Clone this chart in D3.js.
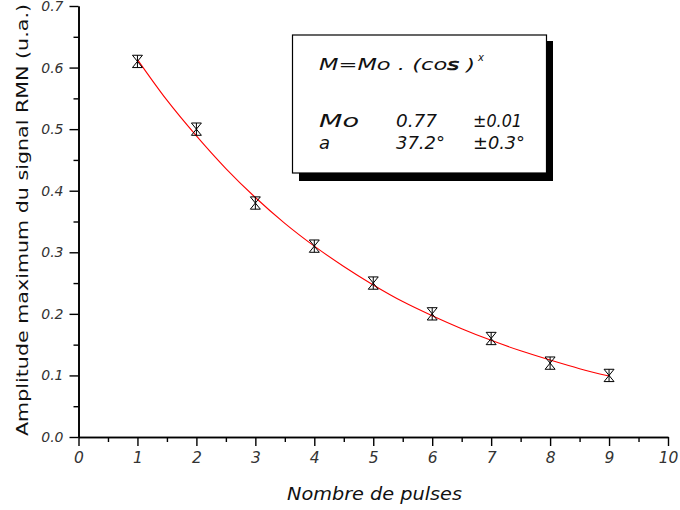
<!DOCTYPE html>
<html><head><meta charset="utf-8">
<script src="https://cdn.jsdelivr.net/npm/d3@7/dist/d3.min.js"></script>
<style>body{margin:0;background:#fff}svg{display:block}</style>
</head><body>
<svg id="c" width="680" height="510"></svg>
<script>
// data
const pulses = [1, 2, 3, 4, 5, 6, 7, 8, 9];
const amplitude = [0.61, 0.50, 0.38, 0.31, 0.25, 0.20, 0.16, 0.12, 0.10];
const errBar = [0.01, 0.01, 0.01, 0.01, 0.01, 0.01, 0.01, 0.01, 0.01];
const fitX = [1, 1.5, 2, 2.5, 3, 3.5, 4, 4.5, 5, 5.5, 6, 6.5, 7, 7.5, 8, 8.5, 9];
const fitY = [0.613, 0.547, 0.489, 0.436, 0.389, 0.347, 0.310, 0.277, 0.247, 0.220, 0.197, 0.176, 0.157, 0.140, 0.125, 0.111, 0.099];
const xTicks = [0, 1, 2, 3, 4, 5, 6, 7, 8, 9, 10];
const yTicks = [0.0, 0.1, 0.2, 0.3, 0.4, 0.5, 0.6, 0.7];
const legendRows = [["Mo", "0.77", "\u00b10.01"], ["a", "37.2\u00b0", "\u00b10.3\u00b0"]];

const svg = d3.select("#c");
const font = "'DejaVu Sans', sans-serif";
const x = d3.scaleLinear().domain([0, 10]).range([78.5, 668]);
const y = d3.scaleLinear().domain([0, 0.7]).range([437, 6]);

// axes
const xAxis = d3.axisBottom(x).tickValues(xTicks).tickSize(9).tickSizeOuter(0).tickFormat(d3.format("d"));
const xMinor = d3.axisBottom(x).tickValues(d3.range(0.5, 10, 1)).tickSize(5).tickSizeOuter(0).tickFormat("");
const yAxis = d3.axisLeft(y).tickValues(yTicks).tickSize(9).tickSizeOuter(0).tickFormat(d3.format(".1f"));
const yMinor = d3.axisLeft(y).tickValues(d3.range(0.05, 0.7, 0.1)).tickSize(5).tickSizeOuter(0).tickFormat("");

function style(g){
  g.select(".domain").attr("stroke","#000").attr("stroke-width",1.6);
  g.selectAll(".tick line").attr("stroke","#000").attr("stroke-width",1.4);
  g.selectAll(".tick text").attr("font-family",font).attr("font-style","italic").attr("font-size",14).attr("fill","#333");
}
svg.append("g").attr("transform","translate(0,437)").call(xMinor).call(style);
const gx = svg.append("g").attr("transform","translate(0,437)").call(xAxis).call(style);
gx.selectAll(".tick text").attr("y",26).attr("dy",0).attr("font-size",15.5);
svg.append("g").attr("transform","translate(78.5,0)").call(yMinor).call(style);
const gy = svg.append("g").attr("transform","translate(78.5,0)").call(yAxis).call(style);
gy.selectAll(".tick text").attr("x",-15);

// axis titles
svg.append("text").attr("x", 287).attr("y", 500)
  .attr("font-family",font).attr("font-style","italic").attr("font-size",18).attr("fill","#111")
  .attr("textLength",175).attr("lengthAdjust","spacingAndGlyphs")
  .text("Nombre de pulses");
svg.append("text").attr("transform","translate(28,220) rotate(-90)").attr("text-anchor","middle")
  .attr("font-family",font).attr("font-size",16.5).attr("fill","#111")
  .attr("textLength",432).attr("lengthAdjust","spacingAndGlyphs")
  .text("Amplitude maximum du signal RMN (u.a.)");

// fit curve
const line = d3.line().x((d,i)=>x(fitX[i])).y((d,i)=>y(fitY[i])).curve(d3.curveMonotoneX);
svg.append("path").datum(fitY).attr("d", line).attr("fill","none").attr("stroke","#ff0000").attr("stroke-width",1.1);

// markers: X with error bar caps
const hw = 5;
const mk = svg.append("g").attr("stroke","#000").attr("stroke-width",1).attr("fill","none");
pulses.forEach((p,i)=>{
  const cx = x(p), yt = y(amplitude[i] + errBar[i]), yb = y(amplitude[i] - errBar[i]);
  const g = mk.append("g");
  g.append("line").attr("x1",cx-hw).attr("x2",cx+hw).attr("y1",yt).attr("y2",yt);
  g.append("line").attr("x1",cx-hw).attr("x2",cx+hw).attr("y1",yb).attr("y2",yb);
  g.append("line").attr("x1",cx-hw).attr("x2",cx+hw).attr("y1",yt).attr("y2",yb);
  g.append("line").attr("x1",cx+hw).attr("x2",cx-hw).attr("y1",yt).attr("y2",yb);
  g.append("line").attr("x1",cx).attr("x2",cx).attr("y1",yt).attr("y2",yb);
});

// legend box
const lg = svg.append("g");
lg.append("rect").attr("x",299).attr("y",41).attr("width",254).attr("height",140).attr("fill","#000");
lg.append("rect").attr("x",292.5).attr("y",35).attr("width",254).attr("height",138).attr("fill","#fff").attr("stroke","#000").attr("stroke-width",1.2);
const t1 = lg.append("text").attr("x",319).attr("y",70).attr("font-family",font).attr("font-style","italic").attr("font-size",16).attr("fill","#111")
  .attr("textLength",156).attr("lengthAdjust","spacingAndGlyphs");
t1.append("tspan").text("M=Mo . (co");
t1.append("tspan").attr("stroke","#111").attr("stroke-width",0.7).text("s");
t1.append("tspan").text(" )");
lg.append("text").attr("x",478).attr("y",61).attr("font-family",font).attr("font-style","italic").attr("font-size",10).attr("fill","#111").text("x");
const colX = [319, 396, 473];
const colW = [[40, 41, 49], [null, 49, 52]];
legendRows.forEach((r,i)=>{
  r.forEach((s,j)=>{
    const t = lg.append("text").attr("x",colX[j]).attr("y",127 + i*22).attr("font-family",font).attr("font-style","italic")
      .attr("font-size", 18).attr("fill","#111").text(s);
    if (colW[i][j]) t.attr("textLength", colW[i][j]).attr("lengthAdjust","spacingAndGlyphs");
  });
});
</script>
</body></html>
